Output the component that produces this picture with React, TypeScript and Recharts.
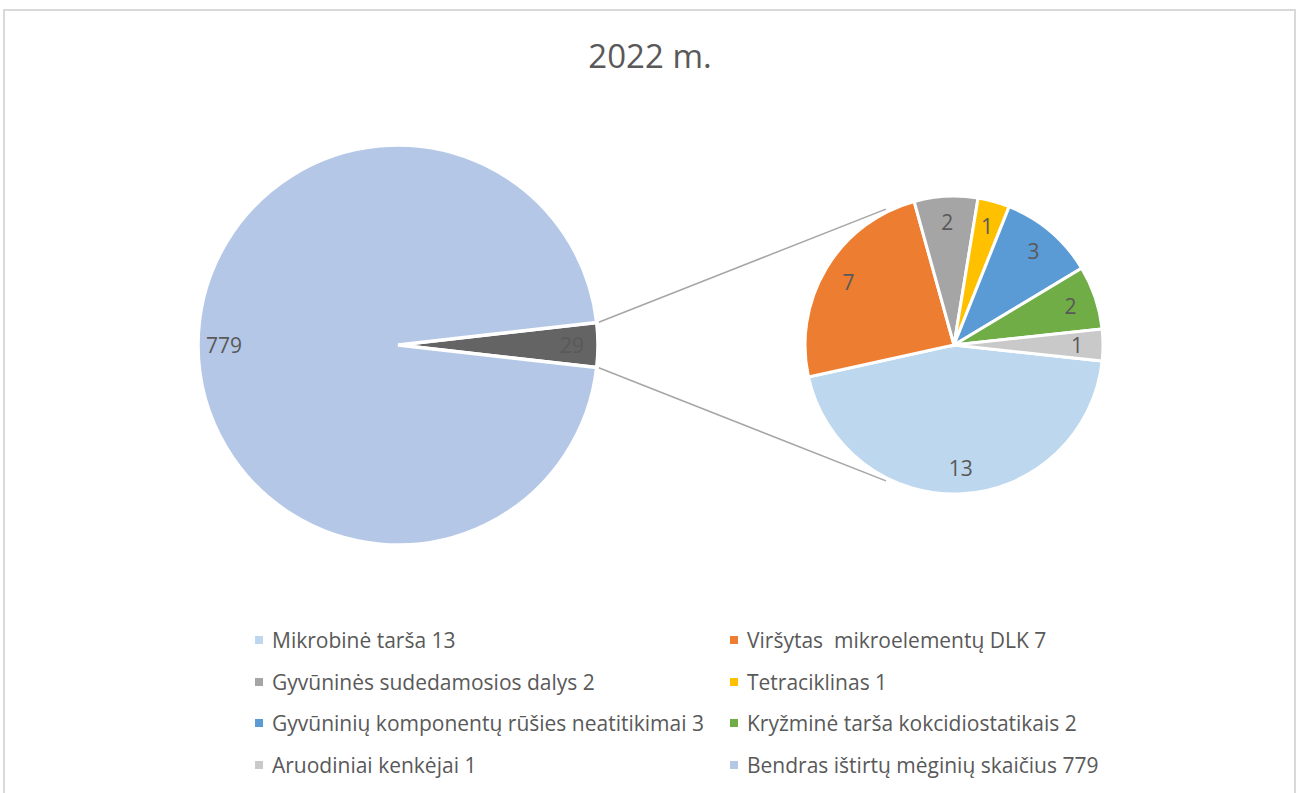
import { PieChart, Pie, Cell, Customized } from "recharts"

const secondaryNames = [
  "Mikrobinė tarša",
  "Viršytas  mikroelementų DLK",
  "Gyvūninės sudedamosios dalys",
  "Tetraciklinas",
  "Gyvūninių komponentų rūšies neatitikimai",
  "Kryžminė tarša kokcidiostatikais",
  "Aruodiniai kenkėjai",
]
const secondaryValues = [13, 7, 2, 1, 3, 2, 1]
const secondaryColors = ["#BDD7EE", "#ED7D31", "#A5A5A5", "#FFC000", "#5B9BD5", "#70AD47", "#C9C9C9"]

const primaryNames = ["Kita", "Bendras ištirtų mėginių skaičius"]
const primaryValues = [29, 779]
const primaryColors = ["#646464", "#B4C7E7"]

const title = "2022 m."

const W = 1299
const H = 793
const FONT = "'Open Sans', 'Noto Sans', sans-serif"
const TEXT = "#595959"
const RAD = Math.PI / 180

const left = { cx: 398, cy: 345, r: 200 }
const right = { cx: 954, cy: 345, r: 149 }

const primaryData = primaryNames.map((name, i) => ({ name, value: primaryValues[i] }))
const secondaryData = secondaryNames.map((name, i) => ({ name, value: secondaryValues[i] }))

const primaryTotal = primaryValues.reduce((a, b) => a + b, 0)
const secondaryTotal = secondaryValues.reduce((a, b) => a + b, 0)
// "other" slice centred on the right, secondary pie's last slice centred on the right too
const primaryStart = (primaryValues[0] / primaryTotal) * 180
const secondaryStart = -(secondaryValues[secondaryValues.length - 1] / secondaryTotal) * 180

const legendItems = [
  ...secondaryNames.map((n, i) => ({ label: `${n} ${secondaryValues[i]}`, color: secondaryColors[i] })),
  { label: `${primaryNames[1]} ${primaryValues[1]}`, color: primaryColors[1] },
]

const renderLabel = (props: any) => {
  const { cx, cy, midAngle, outerRadius, value } = props
  const r = outerRadius - 26
  const x = cx + r * Math.cos(-midAngle * RAD)
  const y = cy + r * Math.sin(-midAngle * RAD)
  return (
    <text x={x} y={y} fill={TEXT} fontSize={21} fontFamily={FONT} textAnchor="middle" dominantBaseline="central">
      {value}
    </text>
  )
}

function Decorations() {
  const a = primaryStart * RAD
  const sr = left.r + 2
  const p1 = { x: left.cx + sr * Math.cos(a), y: left.cy - sr * Math.sin(a) }
  const p2 = { x: left.cx + sr * Math.cos(a), y: left.cy + sr * Math.sin(a) }
  const b = 116.6 * RAD
  const er = right.r + 3
  const q1 = { x: right.cx + er * Math.cos(b), y: right.cy - er * Math.sin(b) }
  const q2 = { x: right.cx + er * Math.cos(b), y: right.cy + er * Math.sin(b) }
  return (
    <g>
      <text x={650} y={55} fill={TEXT} fontSize={33} fontFamily={FONT} textAnchor="middle" dominantBaseline="central">
        {title}
      </text>
      <line x1={p1.x} y1={p1.y} x2={q1.x} y2={q1.y} stroke="#A6A6A6" strokeWidth={1.5} />
      <line x1={p2.x} y1={p2.y} x2={q2.x} y2={q2.y} stroke="#A6A6A6" strokeWidth={1.5} />
    </g>
  )
}

function Legend() {
  const cols = [255, 730]
  const rows = [640, 682, 723, 765]
  return (
    <>
      {legendItems.map((it, i) => (
        <div
          key={it.label}
          style={{
            position: "absolute",
            left: cols[i % 2],
            top: rows[Math.floor(i / 2)] - 14,
            height: 28,
            display: "flex",
            alignItems: "center",
            fontFamily: FONT,
            fontSize: 21,
            color: TEXT,
            whiteSpace: "pre",
          }}
        >
          <span style={{ width: 8, height: 8, background: it.color, marginRight: 9, display: "inline-block" }} />
          {it.label}
        </div>
      ))}
    </>
  )
}

export default function App() {
  return (
    <div style={{ position: "fixed", left: 0, top: 0, width: W, height: H, overflow: "hidden", background: "#fff" }}>
      <div
        style={{
          position: "absolute",
          left: 3,
          top: 9,
          width: 1289,
          height: 820,
          border: "2px solid #D9D9D9",
        }}
      />
      <div style={{ position: "absolute", left: 0, top: 0 }}>
        <PieChart width={W} height={H} margin={{ top: 0, right: 0, bottom: 0, left: 0 }}>
          <Customized component={Decorations} />
          <Pie
            data={primaryData}
            dataKey="value"
            cx={left.cx}
            cy={left.cy}
            outerRadius={left.r}
            startAngle={primaryStart}
            endAngle={primaryStart - 360}
            stroke="#fff"
            strokeWidth={3.5}
            label={renderLabel}
            labelLine={false}
            isAnimationActive={false}
          >
            {primaryData.map((d, i) => (
              <Cell key={d.name} fill={primaryColors[i]} />
            ))}
          </Pie>
          <Pie
            data={secondaryData}
            dataKey="value"
            cx={right.cx}
            cy={right.cy}
            outerRadius={right.r}
            startAngle={secondaryStart}
            endAngle={secondaryStart - 360}
            stroke="#fff"
            strokeWidth={3}
            label={renderLabel}
            labelLine={false}
            isAnimationActive={false}
          >
            {secondaryData.map((d, i) => (
              <Cell key={d.name} fill={secondaryColors[i]} />
            ))}
          </Pie>
        </PieChart>
      </div>
      <Legend />
    </div>
  )
}
